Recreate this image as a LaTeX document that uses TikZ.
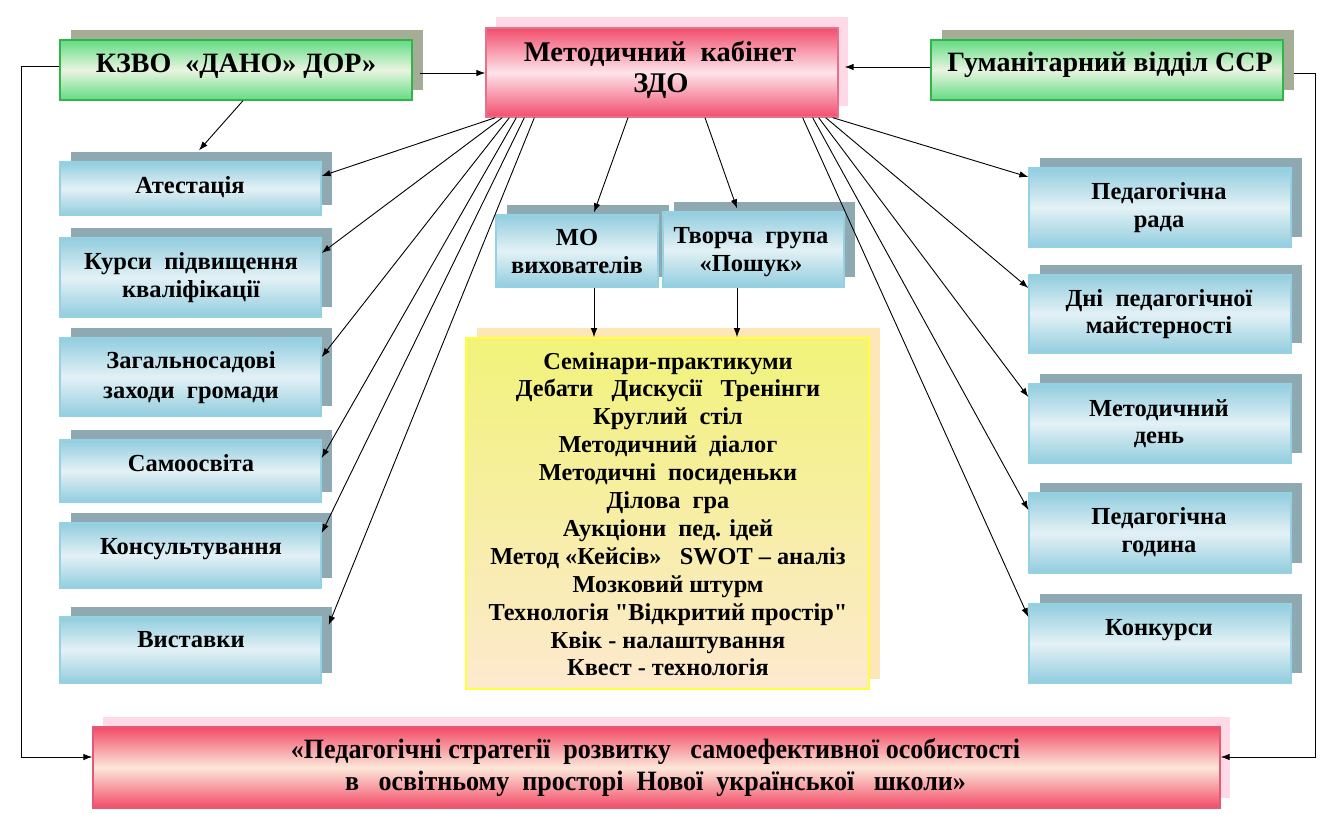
\documentclass[tikz,border=0pt]{standalone}
\usepackage{fontspec}
\setmainfont{Liberation Serif}[Ligatures=TeXOff]
\newfontfamily\condfont{Liberation Serif}[FakeStretch=0.93,Ligatures=TeXOff]
\usetikzlibrary{shadows,arrows.meta}
\definecolor{blueD}{HTML}{92CDDE}
\definecolor{blueL}{HTML}{E3F1F6}
\definecolor{blueB}{HTML}{94D1E2}
\definecolor{blueS}{HTML}{8FA9B2}
\definecolor{greenD}{HTML}{62DC84}
\definecolor{greenL}{HTML}{EAF4E0}
\definecolor{greenB}{HTML}{34B24C}
\definecolor{greenS}{HTML}{A4AE97}
\definecolor{pinkD}{HTML}{F24D6D}
\definecolor{pinkL}{HTML}{FDE4EB}
\definecolor{pinkB}{HTML}{E5718B}
\definecolor{pinkS}{HTML}{FFD9E6}
\definecolor{redD}{HTML}{F24B67}
\definecolor{peachL}{HTML}{FCE7D9}
\definecolor{redB}{HTML}{E25A74}
\definecolor{yelD}{HTML}{F1F37A}
\definecolor{yelL}{HTML}{FDE9CF}
\definecolor{yelB}{HTML}{FFFF3C}
\definecolor{yelS}{HTML}{FDE6B8}
\tikzset{
  box/.style={rectangle, inner sep=0pt, shading=axis, shading angle=-45},
  bluebox/.style={box, draw=blueB, line width=1.3pt, top color=blueD, bottom color=blueD, middle color=blueL,
     general shadow={shadow xshift=11pt, shadow yshift=10pt, fill=blueS, draw=none}},
  greenbox/.style={box, draw=greenB, line width=1.3pt, top color=greenD, bottom color=greenD, middle color=greenL,
     general shadow={shadow xshift=11pt, shadow yshift=10pt, fill=greenS, draw=none}},
  pinkbox/.style={box, draw=pinkB, line width=1.3pt, top color=pinkD, bottom color=pinkD, middle color=pinkL,
     general shadow={shadow xshift=10pt, shadow yshift=11pt, fill=pinkS, draw=none}},
  redbox/.style={box, draw=redB, line width=1.3pt, top color=redD, bottom color=redD, middle color=peachL,
     general shadow={shadow xshift=10pt, shadow yshift=10pt, fill=pinkS, draw=none}},
  yelbox/.style={box, draw=yelB, line width=1.6pt, top color=yelD, bottom color=yelL,
     general shadow={shadow xshift=11pt, shadow yshift=10pt, fill=yelS, draw=none}},
  ttl/.style={anchor=base, inner sep=0pt, font=\fontsize{28}{33}\selectfont\bfseries},
  ctl/.style={anchor=base, inner sep=0pt, font=\fontsize{28.5}{33}\selectfont\bfseries},
  bt/.style={anchor=base, inner sep=0pt, font=\fontsize{24.5}{29}\selectfont\bfseries},
  yt/.style={anchor=base, inner sep=0pt, font=\fontsize{24.3}{28}\selectfont\bfseries},
  bot/.style={anchor=base, inner sep=0pt, font=\condfont\fontsize{28}{32}\selectfont\bfseries},
  arr/.style={-{Latex[length=9pt,width=6.5pt]}, line width=0.9pt, black}
}
\begin{document}
\begin{tikzpicture}[x=1pt,y=-1pt]
\useasboundingbox (0,0) rectangle (1338,825);
\fill[white] (0,0) rectangle (1338,825);

% top boxes
\node[greenbox, minimum width=352pt, minimum height=60pt] (kz) at (236,70) {};
\node[pinkbox, minimum width=352pt, minimum height=89pt] (cab) at (662,72.5) {};
\node[greenbox, minimum width=352pt, minimum height=60pt] (hum) at (1107,70) {};

% left boxes
\node[bluebox, minimum width=261pt, minimum height=53pt] (att) at (190.5,188.5) {};
\node[bluebox, minimum width=261pt, minimum height=79pt] (kur) at (190.5,277.5) {};
\node[bluebox, minimum width=261pt, minimum height=78pt] (zag) at (190.5,377) {};
\node[bluebox, minimum width=261pt, minimum height=62pt] (sam) at (190.5,471) {};
\node[bluebox, minimum width=261pt, minimum height=65pt] (kon) at (190.5,555.5) {};
\node[bluebox, minimum width=261pt, minimum height=66pt] (vys) at (190.5,650) {};

% right boxes
\node[bluebox, minimum width=262pt, minimum height=79pt] (rad) at (1160,207.5) {};
\node[bluebox, minimum width=262pt, minimum height=78pt] (dni) at (1160,314) {};
\node[bluebox, minimum width=262pt, minimum height=79pt] (mde) at (1160,423.5) {};
\node[bluebox, minimum width=262pt, minimum height=80pt] (god) at (1160,533) {};
\node[bluebox, minimum width=262pt, minimum height=79pt] (kkr) at (1160,643.5) {};

% middle boxes
\node[bluebox, minimum width=162pt, minimum height=72pt] (mo) at (577,251) {};
\node[bluebox, minimum width=181pt, minimum height=75pt] (tvo) at (753.5,249.5) {};
\node[yelbox, minimum width=403pt, minimum height=351pt] (yel) at (667.5,513.5) {};
\node[redbox, minimum width=1127pt, minimum height=81pt] (bot) at (656.5,767.5) {};

% texts
\node[ttl] (kz1) at (236,72) {КЗВО~~«ДАНО» ДОР»};
\node[ttl] (hum1) at (1110,71) {Гуманітарний відділ ССР};
\node[ctl] (cab1) at (660,61) {Методичний~~кабінет};
\node[ctl] (cab2) at (661,92) {ЗДО};

\node[bt] (att1) at (190,193) {Атестація};
\node[bt] (kur1) at (191,269) {Курси~~підвищення};
\node[bt] (kur2) at (191,297) {кваліфікації};
\node[bt] (zag1) at (191,368) {Загальносадові};
\node[bt] (zag2) at (191,398) {заходи~~громади};
\node[bt] (sam1) at (191,471) {Самоосвіта};
\node[bt] (kon1) at (191,554) {Консультування};
\node[bt] (vys1) at (191,647) {Виставки};

\node[bt] (rad1) at (1159,199) {Педагогічна};
\node[bt] (rad2) at (1159,227) {рада};
\node[bt] (dni1) at (1159,306) {Дні~~педагогічної};
\node[bt] (dni2) at (1159,333) {майстерності};
\node[bt] (mde1) at (1159,416) {Методичний};
\node[bt] (mde2) at (1159,443) {день};
\node[bt] (god1) at (1159,524) {Педагогічна};
\node[bt] (god2) at (1159,552) {година};
\node[bt] (kkr1) at (1159,635) {Конкурси};

\node[bt] (mo1) at (577,245) {МО};
\node[bt] (mo2) at (577,273) {вихователів};
\node[bt] (tvo1) at (751,243) {Творча~~група};
\node[bt] (tvo2) at (751,271) {«Пошук»};

\foreach \t [count=\i] in {Семінари-практикуми, Дебати~~~Дискусії~~~Тренінги, Круглий~~стіл,
  Методичний~~діалог, Методичні~~посиденьки, Ділова~~гра, Аукціони~~пед. ідей,
  Метод «Кейсів»~~~SWOT – аналіз, Мозковий штурм, Технологія "Відкритий простір",
  Квік - налаштування, Квест - технологія}
  \node[yt] (y\i) at (668,{369+27.9*(\i-1)}) {\t};

\node[bot] (bot1) at (655.5,758) {«Педагогічні стратегії~~розвитку~~~самоефективної особистості};
\node[bot] (bot2) at (655.5,790) {в~~~освітньому~~просторі~~Нової~~української~~~школи»};

% connectors
\draw[arr] ([yshift=3.5pt]kz.west) -- ++(-38,0) |- ([yshift=10.5pt]bot.west);
\draw[arr] ([xshift=7pt,yshift=-3pt]kz.east) -- ([yshift=-0.5pt]cab.west);
\draw[arr] ([yshift=3pt]hum.west) -- ([xshift=6pt,yshift=5.5pt]cab.east);
\draw[arr] ([xshift=10pt,yshift=-3pt]hum.east) -- ++(22,0) |- ([yshift=10.5pt]bot.east);
\draw[arr] ([xshift=7pt]kz.south) -- ([xshift=8.5pt,yshift=11pt]att.north);

\draw[arr] ([xshift=10pt]cab.south west) -- ([yshift=12.5pt]att.east);
\draw[arr] ([xshift=17pt]cab.south west) -- ([yshift=24.5pt]kur.east);
\draw[arr] ([xshift=24pt]cab.south west) -- ([yshift=20pt]zag.east);
\draw[arr] ([xshift=31pt]cab.south west) -- ([yshift=13pt]sam.east);
\draw[arr] ([xshift=39pt]cab.south west) -- ([yshift=22.5pt]kon.east);
\draw[arr] ([xshift=49pt]cab.south west) -- ([xshift=7pt,yshift=25pt]vys.east);

\draw[arr] ([xshift=-6pt]cab.south east) -- ([yshift=30.5pt]rad.west);
\draw[arr] ([xshift=-13pt]cab.south east) -- ([yshift=26pt]dni.west);
\draw[arr] ([xshift=-20pt]cab.south east) -- ([yshift=26.5pt]mde.west);
\draw[arr] ([xshift=-26pt]cab.south east) -- ([yshift=23pt]god.west);
\draw[arr] ([xshift=-36pt]cab.south east) -- ([yshift=26.5pt]kkr.west);

\draw[arr] ([xshift=-34pt]cab.south) -- ([xshift=17pt,yshift=2pt]mo.north);
\draw[arr] ([xshift=43pt]cab.south) -- ([xshift=-16.5pt,yshift=3pt]tvo.north);
\draw[arr] ([xshift=17pt]mo.south) -- ([xshift=17pt]mo.south |- yel.north);
\draw[arr] ([xshift=-16.5pt]tvo.south) -- ([xshift=-16.5pt]tvo.south |- yel.north);
\end{tikzpicture}
\end{document}
